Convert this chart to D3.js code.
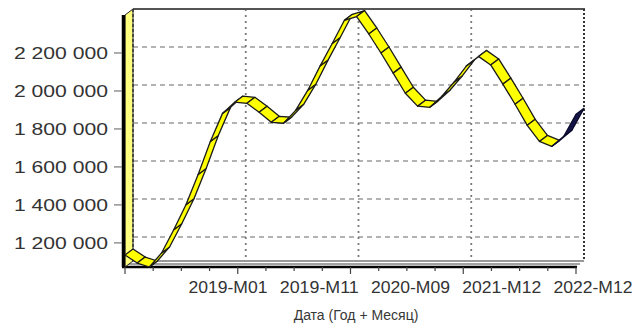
<!DOCTYPE html>
<html>
<head>
<meta charset="utf-8">
<script src="https://cdn.jsdelivr.net/npm/d3@7"></script>
<style>
  body { margin: 0; background: #fff; }
  svg { display: block; font-family: "Liberation Sans", Arial, sans-serif; }
</style>
</head>
<body>
<svg></svg>
<script>
const values = [1136000, 1094000, 1073000, 1147000, 1269000, 1401000, 1560000, 1734000, 1882000, 1941000,
  1935000, 1888000, 1835000, 1830000, 1898000, 2004000, 2131000, 2250000, 2372000, 2392000,
  2300000, 2200000, 2094000, 1988000, 1920000, 1914000, 1972000, 2047000, 2131000, 2182000,
  2137000, 2036000, 1930000, 1819000, 1734000, 1708000];
const forecast = [1761000, 1877000];
const xLabels = ["2019-M01", "2019-M11", "2020-M09", "2021-M12", "2022-M12"];
const yTicks = [1200000, 1400000, 1600000, 1800000, 2000000, 2200000];

const dx = 8, dy = -6;
const svg = d3.select("svg")
  .attr("width", 641)
  .attr("height", 324);

const all = values.concat(forecast);
const x = d3.scaleLinear().domain([0, all.length - 1]).range([125, 576]);
const y = d3.scaleLinear().domain([1073000, 2400000]).range([267, 15]);
const labelX = d3.scalePoint().domain(xLabels).range([228, 593]);
const fmt = v => d3.format(",")(v).replace(/,/g, " ");

const [x0, x1] = x.range();
const [yB, yT] = y.range();
const last = all.length - 1;
const minor = d3.range(17).map(k => k * last / 16);
const major = d3.range(5).map(k => k * last / 4);

// back plane
svg.append("rect")
  .attr("x", x0 + dx).attr("y", yT + dy)
  .attr("width", x1 - x0).attr("height", yB - yT)
  .attr("fill", "#fff");

svg.selectAll("line.hgrid")
  .data(yTicks)
  .join("line")
  .attr("x1", x0 + dx).attr("x2", x1 + dx)
  .attr("y1", d => y(d) + dy).attr("y2", d => y(d) + dy)
  .attr("stroke", "#9a9a9a").attr("stroke-width", 1.5)
  .attr("stroke-dasharray", "5,4");

svg.selectAll("line.vgrid")
  .data(major.slice(1, 4))
  .join("line")
  .attr("x1", d => x(d) + dx).attr("x2", d => x(d) + dx)
  .attr("y1", yT + dy).attr("y2", yB + dy)
  .attr("stroke", "#7a7a7a").attr("stroke-width", 1.8)
  .attr("stroke-dasharray", "2,4");

svg.append("line")
  .attr("x1", x0 + dx).attr("x2", x1 + dx + 1)
  .attr("y1", yT + dy).attr("y2", yT + dy)
  .attr("stroke", "#555").attr("stroke-width", 2);
svg.append("line")
  .attr("x1", x1 + dx).attr("x2", x1 + dx)
  .attr("y1", yT + dy).attr("y2", yB + dy)
  .attr("stroke", "#333").attr("stroke-width", 2)
  .attr("stroke-dasharray", "2,2");

// floor
svg.append("path")
  .attr("d", `M${x0},${yB}L${x1},${yB}L${x1 + dx},${yB + dy}L${x0 + dx},${yB + dy}Z`)
  .attr("fill", "#fff");
svg.append("line")
  .attr("x1", x0 + dx).attr("x2", x1 + dx)
  .attr("y1", yB + dy).attr("y2", yB + dy)
  .attr("stroke", "#777").attr("stroke-width", 1.5);
svg.append("line")
  .attr("x1", x0 + 3).attr("x2", x1 + 4)
  .attr("y1", yB - 3).attr("y2", yB - 3)
  .attr("stroke", "#444").attr("stroke-width", 1);
svg.append("line")
  .attr("x1", x0 - 3).attr("x2", x1 + 1)
  .attr("y1", yB).attr("y2", yB)
  .attr("stroke", "#000").attr("stroke-width", 2.5);

// left wall
svg.append("path")
  .attr("d", `M${x0},${yB}L${x0},${yT}L${x0 + dx},${yT + dy}L${x0 + dx},${yB + dy}Z`)
  .attr("fill", "#ffff80")
  .attr("stroke", "#222").attr("stroke-width", 1);
svg.append("line")
  .attr("x1", x0 + dx).attr("x2", x0 + dx)
  .attr("y1", yT + dy).attr("y2", yB + dy)
  .attr("stroke", "#333").attr("stroke-width", 1.5)
  .attr("stroke-dasharray", "3,2");
svg.append("line")
  .attr("x1", x0 - 1.5).attr("x2", x0 - 1.5)
  .attr("y1", yT).attr("y2", yB)
  .attr("stroke", "#000").attr("stroke-width", 3.5);

// ribbon
const pts = all.map((v, i) => [x(i), y(v)]);
const segs = d3.pairs(pts).map(([a, b], i) => ({ a, b, fc: i >= values.length - 1 }));

svg.selectAll("path.seg")
  .data(segs)
  .join("path")
  .attr("class", "seg")
  .attr("d", d => `M${d.a[0]},${d.a[1]}L${d.b[0]},${d.b[1]}L${d.b[0] + dx},${d.b[1] + dy}L${d.a[0] + dx},${d.a[1] + dy}Z`)
  .attr("fill", d => d.fc ? "#15154a" : "#ffff00")
  .attr("stroke", d => d.fc ? "#0a0a2a" : "#1a1a1a")
  .attr("stroke-width", 1.3)
  .attr("stroke-linejoin", "round");

// axes
svg.selectAll("line.ytick")
  .data(yTicks)
  .join("line")
  .attr("x1", 114).attr("x2", x0 - 3)
  .attr("y1", d => y(d)).attr("y2", d => y(d))
  .attr("stroke", "#777").attr("stroke-width", 1.2);

svg.selectAll("text.ylab")
  .data(yTicks)
  .join("text")
  .attr("x", 108)
  .attr("y", d => y(d) + 6)
  .attr("text-anchor", "end")
  .attr("font-size", 17)
  .attr("textLength", 94)
  .attr("lengthAdjust", "spacingAndGlyphs")
  .attr("fill", "#333")
  .text(fmt);

svg.selectAll("line.xtick")
  .data(minor)
  .join("line")
  .attr("x1", d => x(d)).attr("x2", d => x(d))
  .attr("y1", yB).attr("y2", (d, i) => yB + (i % 4 === 0 ? 7 : 4))
  .attr("stroke", "#444").attr("stroke-width", 1.2);

svg.selectAll("text.xlab")
  .data(xLabels)
  .join("text")
  .attr("x", d => labelX(d))
  .attr("y", 293)
  .attr("text-anchor", "middle")
  .attr("font-size", 16)
  .attr("textLength", 79)
  .attr("lengthAdjust", "spacingAndGlyphs")
  .attr("fill", "#333")
  .text(d => d);

svg.append("text")
  .attr("x", 356)
  .attr("y", 320)
  .attr("text-anchor", "middle")
  .attr("font-size", 14)
  .attr("fill", "#383838")
  .text("Дата (Год + Месяц)");
</script>
</body>
</html>
